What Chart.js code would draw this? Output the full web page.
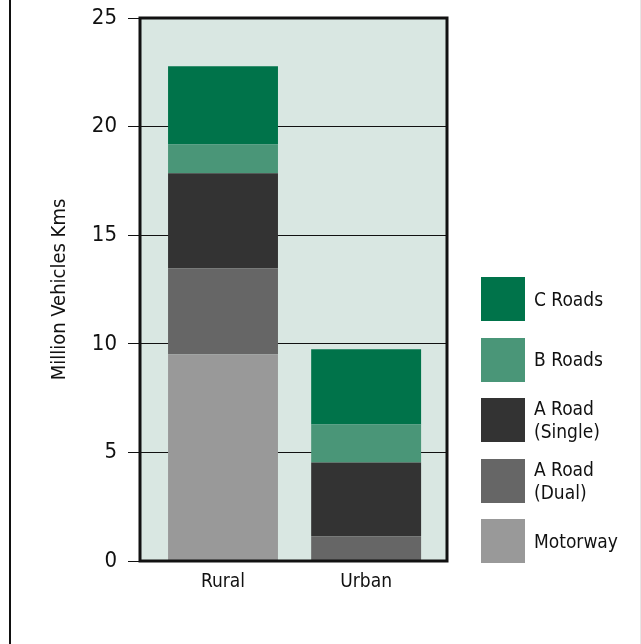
<!DOCTYPE html>
<html>
<head>
<meta charset="utf-8">
<script src="https://cdn.jsdelivr.net/npm/chart.js@4.4.1/dist/chart.umd.min.js"></script>
<style>
  html, body { margin: 0; padding: 0; background: #fff; }
  #wrap { position: relative; width: 641px; height: 644px; overflow: hidden; }
  #frameL { position: absolute; left: 9px; top: 0; width: 2px; height: 644px; background: #111; }
  #frameR { position: absolute; left: 640px; top: 0; width: 1px; height: 644px; background: #e6e6e6; }
  canvas { position: absolute; left: 0; top: 0; }
  #legend { position: absolute; left: 481px; top: 277px; font-family: "Liberation Sans Narrow", "DejaVu Sans Condensed", sans-serif; font-size: 19px; color: #111; }
  .item { position: absolute; left: 0; width: 150px; height: 44px; }
  .sw { position: absolute; left: 0; top: 0; width: 44px; height: 44px; }
  .lab { position: absolute; left: 53px; top: 0; height: 44px; display: flex; align-items: center; line-height: 23px; white-space: nowrap; }
</style>
</head>
<body>
<div id="wrap">
  <canvas id="c" width="641" height="644"></canvas>
  <div id="frameL"></div>
  <div id="frameR"></div>
  <div id="legend"></div>
</div>
<script>
// Areas
const categories = ['Rural', 'Urban'];

// Road classes, bottom of the stack first
const roadNames = ['Motorway', 'A Road (Dual)', 'A Road (Single)', 'B Roads', 'C Roads'];
const legendLines = [['Motorway'], ['A Road', '(Dual)'], ['A Road', '(Single)'], ['B Roads'], ['C Roads']];
const roadColors = ['#999999', '#666666', '#333333', '#4a9678', '#00734a'];

// Million vehicle kms per road class
const motorway    = [9.52, 0];
const aRoadDual   = [3.96, 1.14];
const aRoadSingle = [4.37, 3.40];
const bRoads      = [1.33, 1.75];
const cRoads      = [3.60, 3.46];
const seriesValues = [motorway, aRoadDual, aRoadSingle, bRoads, cRoads];

const yTicks = [0, 5, 10, 15, 20, 25];

const FONT = '"Liberation Sans Narrow", "DejaVu Sans Condensed", sans-serif';

const plotFrame = {
  id: 'plotFrame',
  beforeDraw(chart) {
    const { ctx, chartArea: a } = chart;
    ctx.save();
    ctx.fillStyle = '#d9e7e2';
    ctx.fillRect(a.left, a.top, a.right - a.left, a.bottom - a.top);
    ctx.restore();
  },
  afterDraw(chart) {
    const { ctx, chartArea: a } = chart;
    ctx.save();
    ctx.strokeStyle = '#111';
    ctx.lineWidth = 3;
    ctx.strokeRect(a.left, a.top, a.right - a.left, a.bottom - a.top);
    ctx.restore();
  }
};

const chart = new Chart(document.getElementById('c'), {
  type: 'bar',
  data: {
    datasets: roadNames.map((name, i) => ({
      label: name,
      data: seriesValues[i].map((v, j) => ({ x: j, y: v })),
      backgroundColor: roadColors[i],
      borderWidth: 0,
      categoryPercentage: 1,
      barPercentage: 0.768
    }))
  },
  options: {
    responsive: false,
    animation: false,
    layout: { padding: { left: 10, top: 18, right: 194, bottom: 0 } },
    plugins: { legend: { display: false }, tooltip: { enabled: false } },
    scales: {
      x: {
        type: 'linear',
        stacked: true,
        offset: false,
        min: -0.58,
        max: 1.565,
        afterBuildTicks(scale) { scale.ticks = categories.map((c, i) => ({ value: i })); },
        grid: { display: false, drawTicks: false, offset: false },
        border: { display: false },
        ticks: {
          color: '#111',
          font: { family: FONT, size: 19 },
          padding: 10,
          callback: (v) => categories[v]
        },
        afterFit(scale) { scale.height = 83; scale.paddingLeft = 0; scale.paddingRight = 0; }
      },
      y: {
        stacked: true,
        min: 0,
        max: 25,
        afterBuildTicks(scale) { scale.ticks = yTicks.map(v => ({ value: v })); },
        grid: { color: '#111', lineWidth: 1, tickLength: 12, drawOnChartArea: true },
        border: { display: false },
        ticks: { color: '#111', font: { family: FONT, size: 22 }, padding: 11 },
        title: {
          display: true,
          text: 'Million Vehicles Kms',
          color: '#111',
          font: { family: FONT, size: 20 },
          padding: { top: 38, bottom: 0 }
        },
        afterFit(scale) { scale.width = 130; scale.paddingTop = 0; scale.paddingBottom = 0; }
      }
    }
  },
  plugins: [plotFrame]
});

// Legend, top entry is the top of the stack
const legend = document.getElementById('legend');
for (let k = roadNames.length - 1, row = 0; k >= 0; k--, row++) {
  const item = document.createElement('div');
  item.className = 'item';
  item.style.top = (row * 60.5) + 'px';
  const sw = document.createElement('div');
  sw.className = 'sw';
  sw.style.background = roadColors[k];
  const lab = document.createElement('div');
  lab.className = 'lab';
  lab.innerHTML = legendLines[k].join('<br>');
  item.appendChild(sw);
  item.appendChild(lab);
  legend.appendChild(item);
}
</script>
</body>
</html>
